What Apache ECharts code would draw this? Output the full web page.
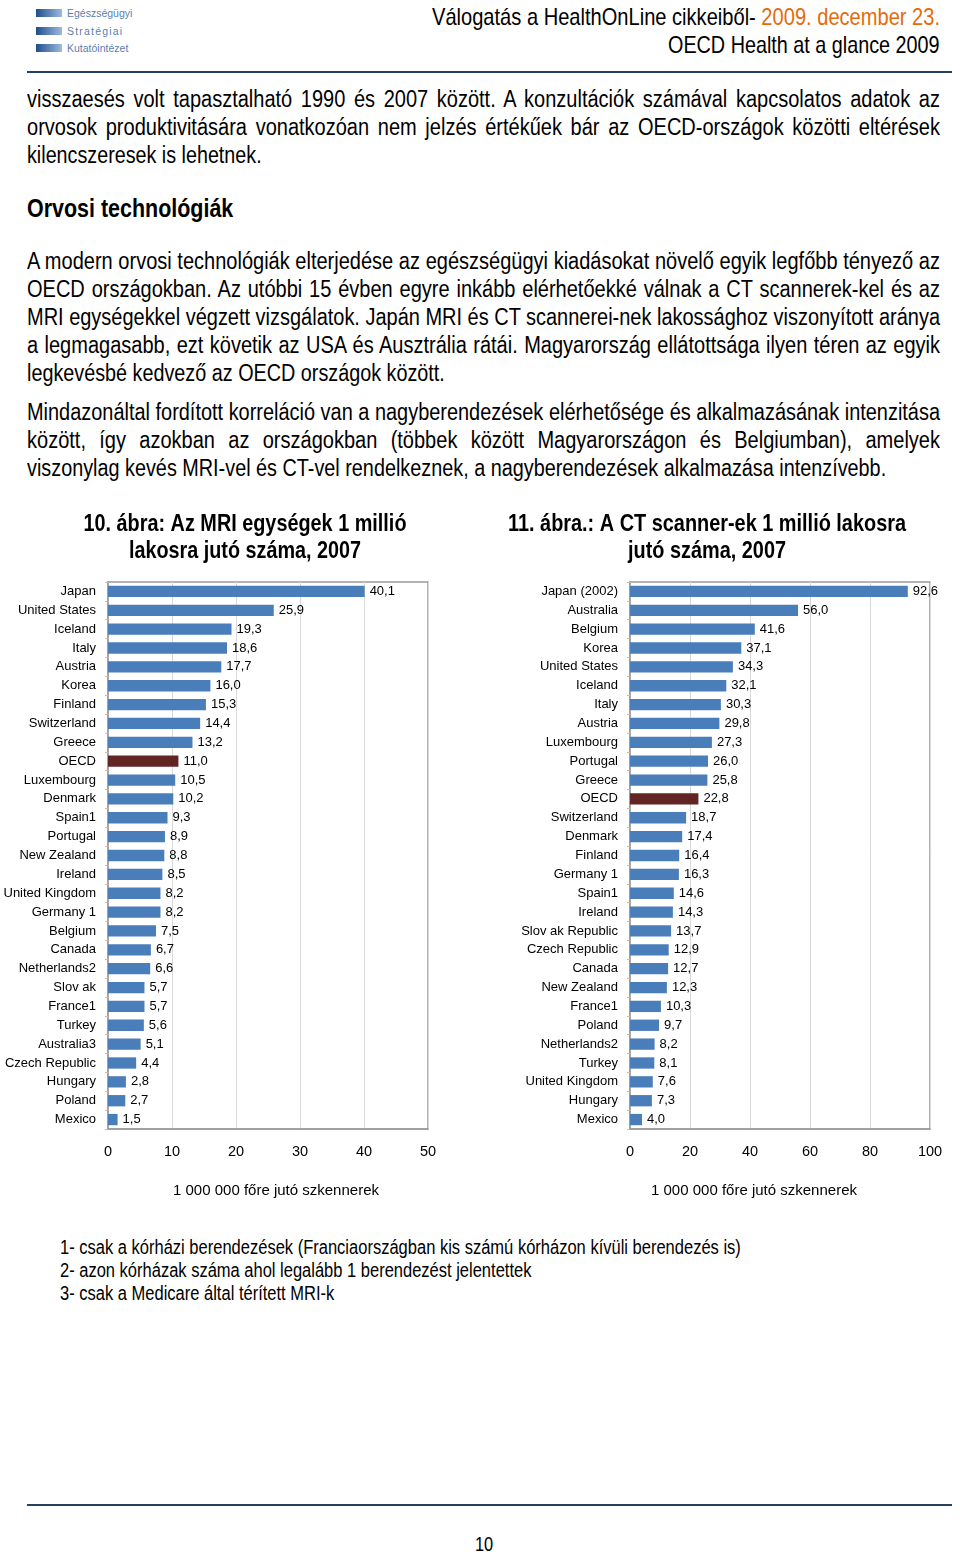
<!DOCTYPE html>
<html>
<head>
<meta charset="utf-8">
<script src="https://cdn.jsdelivr.net/npm/echarts@6/dist/echarts.min.js"></script>
<style>
  html, body { margin: 0; padding: 0; background: #fff; }
  #page { position: relative; width: 960px; height: 1552px; overflow: hidden; background: #fff;
          font-family: "Liberation Sans", Arial, sans-serif; color: #000; }
  .t { position: absolute; white-space: nowrap; transform-origin: 0 0; }
  .ln { left: 27px; font-size: 23px; line-height: 28px; }
  .j { text-align: justify; text-align-last: justify; }
  .hr { position: absolute; left: 27px; width: 925px; height: 2px; background: #24415f; }
  .logo-bar { position: absolute; left: 36px; width: 26px; height: 8px; background: linear-gradient(to right, #1f4e8c, #9dbbe0); }
  .logo-txt { position: absolute; left: 67px; font-size: 10.5px; color: #5a7fae; white-space: nowrap; }
  #chart { position: absolute; left: 0; top: 500px; width: 960px; height: 720px; }
</style>
</head>
<body>
<div id="page">
  <!-- logo -->
  <div class="logo-bar" style="top:9px"></div>
  <div class="logo-bar" style="top:27px"></div>
  <div class="logo-bar" style="top:44px"></div>
  <div class="logo-txt" style="top:7px">Egészségügyi</div>
  <div class="logo-txt" style="top:25px; letter-spacing:1.2px">Stratégiai</div>
  <div class="logo-txt" style="top:42px">Kutatóintézet</div>

  <div class="t" data-w="508" data-r="940" style="top:2px; font-size:24px; line-height:30px">Válogatás a HealthOnLine cikkeiből- <span style="color:#e46c0a">2009. december 23.</span></div>
  <div class="t" data-w="272" data-r="940" style="top:30px; font-size:24px; line-height:30px">OECD Health at a glance 2009</div>
  <div class="hr" style="top:71px"></div>

  <div class="t ln j" style="top:85px">visszaesés volt tapasztalható 1990 és 2007 között. A konzultációk számával kapcsolatos adatok az</div>
  <div class="t ln j" style="top:113px">orvosok produktivitására vonatkozóan nem jelzés értékűek bár az OECD-országok közötti eltérések</div>
  <div class="t ln" data-w="235" style="top:141px">kilencszeresek is lehetnek.</div>

  <div class="t ln" data-w="206" style="top:193px; font-weight:bold; font-size:25px; line-height:30px">Orvosi technológiák</div>

  <div class="t ln j" style="top:247px">A modern orvosi technológiák elterjedése az egészségügyi kiadásokat növelő egyik legfőbb tényező az</div>
  <div class="t ln j" style="top:275px">OECD országokban. Az utóbbi 15 évben egyre inkább elérhetőekké válnak a CT scannerek-kel és az</div>
  <div class="t ln j" style="top:303px">MRI egységekkel végzett vizsgálatok. Japán MRI és CT scannerei-nek lakossághoz viszonyított aránya</div>
  <div class="t ln j" style="top:331px">a legmagasabb, ezt követik az USA és Ausztrália rátái. Magyarország ellátottsága ilyen téren az egyik</div>
  <div class="t ln" data-w="418" style="top:359px">legkevésbé kedvező az OECD országok között.</div>

  <div class="t ln j" style="top:398px">Mindazonáltal fordított korreláció van a nagyberendezések elérhetősége és alkalmazásának intenzitása</div>
  <div class="t ln j" style="top:426px">között, így azokban az országokban (többek között Magyarországon és Belgiumban), amelyek</div>
  <div class="t ln" data-w="859" style="top:454px">viszonylag kevés MRI-vel és CT-vel rendelkeznek, a nagyberendezések alkalmazása intenzívebb.</div>

  <div id="chart"></div>

  <div class="t" data-w="681" style="left:60px; top:1235px; font-size:20px; line-height:24px">1- csak a kórházi berendezések (Franciaországban kis számú kórházon kívüli berendezés is)</div>
  <div class="t" data-w="471" style="left:60px; top:1258px; font-size:20px; line-height:24px">2- azon kórházak száma ahol legalább 1 berendezést jelentettek</div>
  <div class="t" data-w="274" style="left:60px; top:1281px; font-size:20px; line-height:24px">3- csak a Medicare által térített MRI-k</div>

  <div class="hr" style="top:1504px"></div>
  <div class="t" data-w="18" style="left:475px; top:1532px; font-size:20px; line-height:24px">10</div>
</div>

<script>
// ---- data ----
const mriCountries = ["Japan", "United States", "Iceland", "Italy", "Austria", "Korea", "Finland", "Switzerland",
  "Greece", "OECD", "Luxembourg", "Denmark", "Spain1", "Portugal", "New Zealand", "Ireland", "United Kingdom",
  "Germany 1", "Belgium", "Canada", "Netherlands2", "Slov ak", "France1", "Turkey", "Australia3", "Czech Republic",
  "Hungary", "Poland", "Mexico"];
const mriValues = [40.1, 25.9, 19.3, 18.6, 17.7, 16.0, 15.3, 14.4, 13.2, 11.0, 10.5, 10.2, 9.3, 8.9, 8.8, 8.5, 8.2,
  8.2, 7.5, 6.7, 6.6, 5.7, 5.7, 5.6, 5.1, 4.4, 2.8, 2.7, 1.5];

const ctCountries = ["Japan (2002)", "Australia", "Belgium", "Korea", "United States", "Iceland", "Italy", "Austria",
  "Luxembourg", "Portugal", "Greece", "OECD", "Switzerland", "Denmark", "Finland", "Germany 1", "Spain1", "Ireland",
  "Slov ak Republic", "Czech Republic", "Canada", "New Zealand", "France1", "Poland", "Netherlands2", "Turkey",
  "United Kingdom", "Hungary", "Mexico"];
const ctValues = [92.6, 56.0, 41.6, 37.1, 34.3, 32.1, 30.3, 29.8, 27.3, 26.0, 25.8, 22.8, 18.7, 17.4, 16.4, 16.3,
  14.6, 14.3, 13.7, 12.9, 12.7, 12.3, 10.3, 9.7, 8.2, 8.1, 7.6, 7.3, 4.0];

const mriTicks = { min: 0, max: 50, interval: 10 };
const ctTicks = { min: 0, max: 100, interval: 20 };
const axisName = "1 000 000 főre jutó szkennerek";
const titleMri = ["10. ábra: Az MRI egységek 1 millió", "lakosra jutó száma, 2007"];
const titleCt = ["11. ábra.: A CT scanner-ek 1 millió lakosra", "jutó száma, 2007"];

// ---- fit narrow-looking text (the reference uses a condensed face) ----
document.querySelectorAll("#page .t").forEach(el => {
  const nat = el.scrollWidth;
  if (el.classList.contains("j")) {
    const s = Math.min(0.87, 913 / nat);
    el.style.width = (913 / s) + "px";
    el.style.transform = "scaleX(" + s + ")";
  } else if (el.dataset.w) {
    const s = (+el.dataset.w) / nat;
    el.style.transform = "scaleX(" + s + ")";
    if (el.dataset.r) el.style.left = ((+el.dataset.r) - (+el.dataset.w)) + "px";
  }
});

// ---- styles ----
const BLUE = "#4a7ebb";
const RED = "#632523";
const arial = '"Liberation Sans", Arial, sans-serif';

function makeData(cats, vals) {
  return vals.map((v, i) => ({ value: v, itemStyle: { color: cats[i] === "OECD" ? RED : BLUE } }));
}

const ctx = document.createElement("canvas").getContext("2d");
function measure(text, font) { ctx.font = font; return ctx.measureText(text).width; }

function titleGraphic(lines, cx, widths) {
  const font = "bold 24px " + arial;
  return lines.map((ln, i) => {
    const s = widths[i] / measure(ln, font);
    return {
      type: "text", x: cx, y: 24 + i * 27, scaleX: s,
      style: { text: ln, font: font, fill: "#000", textAlign: "center", textVerticalAlign: "middle" }
    };
  });
}

const chart = echarts.init(document.getElementById("chart"), null, { renderer: "canvas" });
const gridTop = 82, gridHeight = 547;

function xAxisCfg(gridIndex, ticks, namePad) {
  return {
    type: "value", gridIndex, min: ticks.min, max: ticks.max, interval: ticks.interval,
    axisLine: { show: true, lineStyle: { color: "#9a9a9a", width: 1.5 } },
    axisTick: { show: false },
    axisLabel: { color: "#000", fontFamily: arial, fontSize: 14.5, margin: 15 },
    splitLine: { show: true, lineStyle: { color: "#d9d9d9", width: 1 } },
    name: axisName, nameLocation: "middle", nameGap: 54,
    nameTextStyle: { color: "#000", fontFamily: arial, fontSize: 15, padding: namePad }
  };
}
function yAxisCfg(gridIndex, cats) {
  return {
    type: "category", gridIndex, data: cats, inverse: true,
    axisLine: { show: true, lineStyle: { color: "#9a9a9a", width: 1.5 } },
    axisTick: { show: true, length: 3, lineStyle: { color: "#d8b8a0" } },
    axisLabel: { color: "#000", fontFamily: arial, fontSize: 13, margin: 12 }
  };
}
function seriesCfg(idx, cats, vals) {
  return {
    type: "bar", xAxisIndex: idx, yAxisIndex: idx, data: makeData(cats, vals),
    barCategoryGap: "40%",
    label: { show: true, position: "right", distance: 5, color: "#000", fontFamily: arial, fontSize: 13,
      formatter: p => p.value.toFixed(1).replace(".", ",") },
    animation: false
  };
}

chart.setOption({
  animation: false,
  graphic: [].concat(titleGraphic(titleMri, 245, [323, 232]), titleGraphic(titleCt, 707, [398, 158])),
  grid: [
    { left: 108, width: 320, top: gridTop, height: gridHeight, show: true, borderColor: "#9a9a9a", borderWidth: 1.5, containLabel: false },
    { left: 630, width: 300, top: gridTop, height: gridHeight, show: true, borderColor: "#9a9a9a", borderWidth: 1.5, containLabel: false }
  ],
  xAxis: [xAxisCfg(0, mriTicks, [0, 0, 0, 16]), xAxisCfg(1, ctTicks, [0, 52, 0, 0])],
  yAxis: [yAxisCfg(0, mriCountries), yAxisCfg(1, ctCountries)],
  series: [seriesCfg(0, mriCountries, mriValues), seriesCfg(1, ctCountries, ctValues)]
});
</script>
</body>
</html>
